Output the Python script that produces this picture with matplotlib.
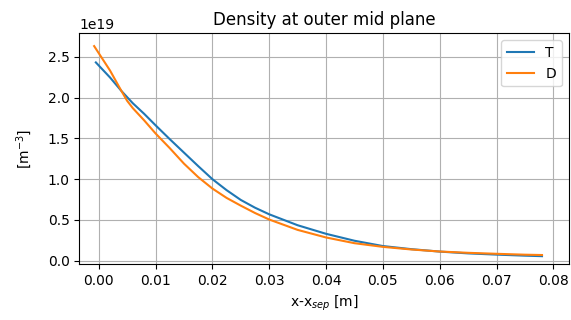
import matplotlib
matplotlib.use("Agg")
import matplotlib.pyplot as plt
import numpy as np

# Density profiles at outer mid plane (units of 1e19 m^-3)
x_t = [-0.0005, 0.002, 0.004, 0.006, 0.008, 0.010, 0.0125, 0.015, 0.0175, 0.020,
       0.0225, 0.025, 0.0275, 0.030, 0.035, 0.040, 0.045, 0.050, 0.055, 0.060,
       0.065, 0.070, 0.075, 0.078]
n_t = [2.43, 2.245, 2.08, 1.93, 1.80, 1.66, 1.49, 1.325, 1.16, 1.0,
       0.865, 0.745, 0.65, 0.569, 0.435, 0.33, 0.245, 0.18, 0.142, 0.112,
       0.09, 0.075, 0.062, 0.056]

x_d = [-0.0008, 0.002, 0.004, 0.005, 0.006, 0.008, 0.010, 0.0125, 0.015, 0.0175,
       0.020, 0.0225, 0.025, 0.0275, 0.030, 0.035, 0.040, 0.045, 0.050, 0.055,
       0.060, 0.065, 0.070, 0.075, 0.078]
n_d = [2.63, 2.33, 2.08, 1.96, 1.87, 1.72, 1.56, 1.38, 1.19, 1.025,
       0.885, 0.77, 0.675, 0.585, 0.505, 0.378, 0.285, 0.215, 0.17, 0.138,
       0.113, 0.097, 0.085, 0.074, 0.07]

fig = plt.figure(figsize=(5.71, 3.2), dpi=100)
ax = fig.add_axes([0.139, 0.175, 0.857, 0.721])

ax.plot(x_t, np.array(n_t) * 1e19, label="T")
ax.plot(x_d, np.array(n_d) * 1e19, label="D")

ax.set_xlim(-0.0034, 0.0827)
ax.set_ylim(-0.04e19, 2.787e19)
ax.set_title("Density at outer mid plane")
ax.set_xlabel("x-x$_{sep}$ [m]")
ax.set_ylabel("[m$^{-3}$]", labelpad=10)
ax.grid(True)
ax.legend(loc="upper right")

fig.savefig("out.png", dpi=100)
